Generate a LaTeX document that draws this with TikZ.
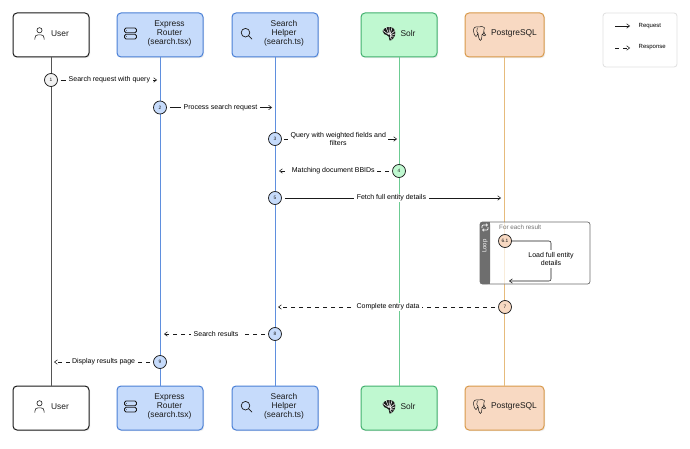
\documentclass[tikz,border=0pt]{standalone}
\usepackage{fontspec}
\setmainfont{Liberation Sans}
\usetikzlibrary{arrows.meta,shadows,positioning}
\definecolor{inkc}{HTML}{1A1A1A}
\definecolor{bluef}{HTML}{C6DBFB}
\definecolor{blued}{HTML}{4A80D6}
\definecolor{bluel}{HTML}{5F8FDE}
\definecolor{greenf}{HTML}{BFF8D0}
\definecolor{greend}{HTML}{42B06E}
\definecolor{greenl}{HTML}{6CCB92}
\definecolor{orangef}{HTML}{F8D9C2}
\definecolor{oranged}{HTML}{D8994A}
\definecolor{orangel}{HTML}{E6BB7C}
\definecolor{greyl}{HTML}{555555}
\definecolor{greyb}{HTML}{6E6E6E}
\definecolor{circf}{HTML}{F2F2F2}
\tikzset{
  x=1pt,y=-1pt,
  actor/.style={draw=#1,line width=1pt,rounded corners=4pt,inner sep=0pt,anchor=center,
    copy shadow={shadow xshift=1.2pt,shadow yshift=-1.2pt,draw=none,fill=black!7}},
  userbox/.style={actor=inkc,fill=white,minimum width=76pt,minimum height=44pt},
  exprbox/.style={actor=blued,fill=bluef,minimum width=86pt,minimum height=44pt},
  solrbox/.style={actor=greend,fill=greenf,minimum width=76pt,minimum height=44pt},
  pgbox/.style={actor=oranged,fill=orangef,minimum width=79pt,minimum height=44pt},
  boxtext/.style={font=\fontsize{8.4}{9.1}\selectfont,align=center,text=inkc,inner sep=0pt},
  life/.style={line width=0.95pt,draw=#1},
  stepc/.style={circle,draw=inkc,line width=0.7pt,fill=#1,minimum size=13pt,inner sep=0pt,
    font=\fontsize{4.8}{5}\selectfont,text=inkc},
  req/.style={draw=inkc,line width=0.55pt,-{Straight Barb[length=3pt,width=4.5pt]}},
  res/.style={req,dash pattern=on 4pt off 4pt},
  msg/.style={fill=white,inner xsep=2.5pt,inner ysep=1pt,font=\fontsize{7}{8}\selectfont,align=center,text=black},
  usericon/.pic={\draw[inkc,line width=0.6pt] (0,-3.2) circle (2.6);
    \draw[inkc,line width=0.6pt,line cap=round] (-4.6,6) -- (-4.6,4.6) .. controls (-4.6,2) and (-3,1.4) .. (-1.5,1.4) -- (1.5,1.4) .. controls (3,1.4) and (4.6,2) .. (4.6,4.6) -- (4.6,6);},
  servericon/.pic={\draw[inkc,line width=0.8pt,rounded corners=1.5pt] (-6,-5.5) rectangle (6,-0.7);
    \draw[inkc,line width=0.8pt,rounded corners=1.5pt] (-6,0.7) rectangle (6,5.5);
    \fill[inkc] (-4.2,-3.1) circle (0.4) (-4.2,3.1) circle (0.4);},
  searchicon/.pic={\draw[inkc,line width=0.7pt] (-0.8,-0.8) circle (4.3);
    \draw[inkc,line width=0.7pt,line cap=round] (2.4,2.4) -- (5.6,5.6);},
  solricon/.pic={\fill[inkc] (-6.5,-2.5) .. controls (-4.5,-6.5) and (1,-7.5) .. (4,-5.5)
      .. controls (7,-3.5) and (7,2) .. (4.5,4.5) .. controls (3.5,6.5) and (1.5,7.5) .. (0.5,7)
      .. controls (1,4) and (-1,1.5) .. (-2.5,1.5) .. controls (-4,2) and (-5.5,0) .. (-6.5,-2.5) -- cycle;
    \draw[white,line width=0.55pt] (0,1) -- (-3.2,-6.5) (0.5,1) -- (0,-7) (1,1) -- (3,-6)
      (1.2,1.5) -- (6,-3) (1.4,2.2) -- (6.5,0.3) (1.2,3) -- (5,3.5) (0.8,3.6) -- (3,6) (-0.5,1) -- (-6,-3);},
  pgicon/.pic={\draw[inkc,line width=0.5pt,line join=round]
      (-1,-6.5) .. controls (-4,-7.5) and (-6.5,-5.5) .. (-6,-2.5) .. controls (-5.8,0) and (-4.8,3) .. (-3.5,3)
      .. controls (-2.6,3) and (-2.4,1.5) .. (-2,0.5) (-2.2,-5.5) .. controls (-3.5,-3) and (-2.5,-0.5) .. (-1.5,0)
      .. controls (-1,2) and (-1,6) .. (1,7) .. controls (2.5,7.2) and (2.3,4) .. (2.3,1.5)
      .. controls (4,1) and (4.6,-1) .. (4.4,-3.5) .. controls (6,-5) and (5,-7) .. (2.5,-7) .. controls (1,-7.2) and (0,-7) .. (-1,-6.5)
      (3,1) .. controls (4,2.5) and (5.5,2.8) .. (6.3,1.5) .. controls (5,1) and (4.8,0) .. (4.6,-1.5);},
  loopicon/.pic={\draw[white,line width=0.7pt,rounded corners=1pt,-{Straight Barb[length=1.5pt,width=2.5pt]}] (-3,0.5) -- (-3,-2.5) -- (3,-2.5);
    \draw[white,line width=0.7pt,rounded corners=1pt,-{Straight Barb[length=1.5pt,width=2.5pt]}] (3,-0.5) -- (3,2.5) -- (-3,2.5);},
}
\begin{document}
\begin{tikzpicture}
\useasboundingbox[fill=white] (0,0) rectangle (690,449);

% actor boxes
\node[userbox] (userT) at (51,35) {};
\node[exprbox] (exprT) at (160,35) {};
\node[exprbox] (helpT) at (275,35) {};
\node[solrbox] (solrT) at (399,35) {};
\node[pgbox]   (pgT)   at (504.5,35) {};
\node[userbox] (userB) at (51,408) {};
\node[exprbox] (exprB) at (160,408) {};
\node[exprbox] (helpB) at (275,408) {};
\node[solrbox] (solrB) at (399,408) {};
\node[pgbox]   (pgB)   at (504.5,408) {};

% lifelines
\draw[life=greyl]   (userT) -- (userB);
\draw[life=bluel]   (exprT) -- (exprB);
\draw[life=bluel]   (helpT) -- (helpB);
\draw[life=greenl]  (solrT) -- (solrB);
\draw[life=orangel] (pgT)   -- (pgB);

% actor labels and icons
\foreach \yy/\tag in {33.5/T,406.5/B}{
  \pic at (39.5,\yy) {usericon};
  \pic at (130.5,\yy) {servericon};
  \pic at (246.3,\yy) {searchicon};
  \pic at (389,\yy) {solricon};
  \pic at (479.5,\yy) {pgicon};
  \node[boxtext] (userL\tag) at (60,\yy) {User};
  \node[boxtext] (exprL\tag) at (169.5,\yy) {Express\\Router\\(search.tsx)};
  \node[boxtext] (helpL\tag) at (284,\yy) {Search\\Helper\\(search.ts)};
  \node[boxtext] (solrL\tag) at (408,\yy) {Solr};
  \node[boxtext] (pgL\tag)   at (514,\yy) {PostgreSQL};
}

% legend
\node[draw=black!12,line width=0.8pt,fill=white,rounded corners=3pt,minimum width=74pt,minimum height=54pt,inner sep=0pt] (legend) at (640,40) {};
\coordinate (la1) at (615,26);  \coordinate (la2) at (630,26);
\coordinate (lb1) at (615,48);  \coordinate (lb2) at (630,48);
\draw[req] (la1) -- (la2);
\draw[res] (lb1) -- (lb2);
\node[anchor=west,inner sep=0pt,font=\fontsize{6}{7}\selectfont] (lreq) at (638.5,26) {Request};
\node[anchor=west,inner sep=0pt,font=\fontsize{6}{7}\selectfont] (lres) at (638.5,47.5) {Response};

% loop frame
\node[draw=greyb,line width=0.7pt,fill=white,fill opacity=0.72,rounded corners=2.5pt,minimum width=110pt,minimum height=62pt,inner sep=0pt] (loopf) at (535,253) {};
\path[fill=greyb,rounded corners=2.5pt] (480,222) rectangle (490,284);
\fill[greyb] (486,222) rectangle (490,284);
\pic at (485,227.5) {loopicon};
\node[rotate=90,text=white,inner sep=0pt,font=\fontsize{6}{7}\selectfont] (loopt) at (485,246) {Loop};
\node[anchor=west,inner sep=0pt,text=black!55,font=\fontsize{6.3}{7}\selectfont] (loopc) at (499,227) {For each result};

% step circles
\node[stepc=circf]   (c1) at (51,80) {1};
\node[stepc=bluef]   (c2) at (160,107.5) {2};
\node[stepc=bluef]   (c3) at (275,139) {3};
\node[stepc=greenf]  (c4) at (399,171) {4};
\node[stepc=bluef]   (c5) at (275,198) {5};
\node[stepc=orangef] (c6) at (505,241) {6.1};
\node[stepc=orangef] (c7) at (505,307) {7};
\node[stepc=bluef]   (c8) at (275,334) {8};
\node[stepc=bluef]   (c9) at (160,362) {9};

% connector ends
\coordinate (e1) at (157,80);
\coordinate (e2) at (272,107.5);
\coordinate (e3) at (397,139);
\coordinate (e4) at (279,171);
\coordinate (e5) at (501,198);
\coordinate (e7) at (278,307);
\coordinate (e8) at (164,334);
\coordinate (e9) at (54,362);
\coordinate (e6a) at (551,241);
\coordinate (e6b) at (551,281);
\coordinate (e6c) at (509,281);

% connectors
\draw[req,shorten <=3pt] (c1) -- (e1) node[msg,pos=0.52] (m1) {Search request with query};
\draw[req,shorten <=3pt] (c2) -- (e2) node[msg,pos=0.51] (m2) {Process search request};
\draw[req,shorten <=2pt] (c3) -- (e3) node[msg,pos=0.49] (m3) {Query with weighted fields and\\filters};
\draw[res,shorten <=3pt] (c4) -- (e4) node[msg,pos=0.52] (m4) {Matching document BBIDs};
\draw[req,shorten <=3pt] (c5) -- (e5) node[msg,pos=0.5] (m5) {Fetch full entity details};
\draw[req,rounded corners=2pt] (c6) -- (e6a) -- (e6b) -- (e6c);
\node[msg,inner sep=2pt] (m6) at (551,259) {Load full entity\\details};
\draw[res,shorten <=3pt] (c7) -- (e7) node[msg,pos=0.5] (m7) {Complete entry data};
\draw[res,shorten <=3pt] (c8) -- (e8) node[msg,pos=0.5] (m8) {Search results};
\draw[res,shorten <=3pt] (c9) -- (e9) node[msg,pos=0.5] (m9) {Display results page};
\end{tikzpicture}
\end{document}
